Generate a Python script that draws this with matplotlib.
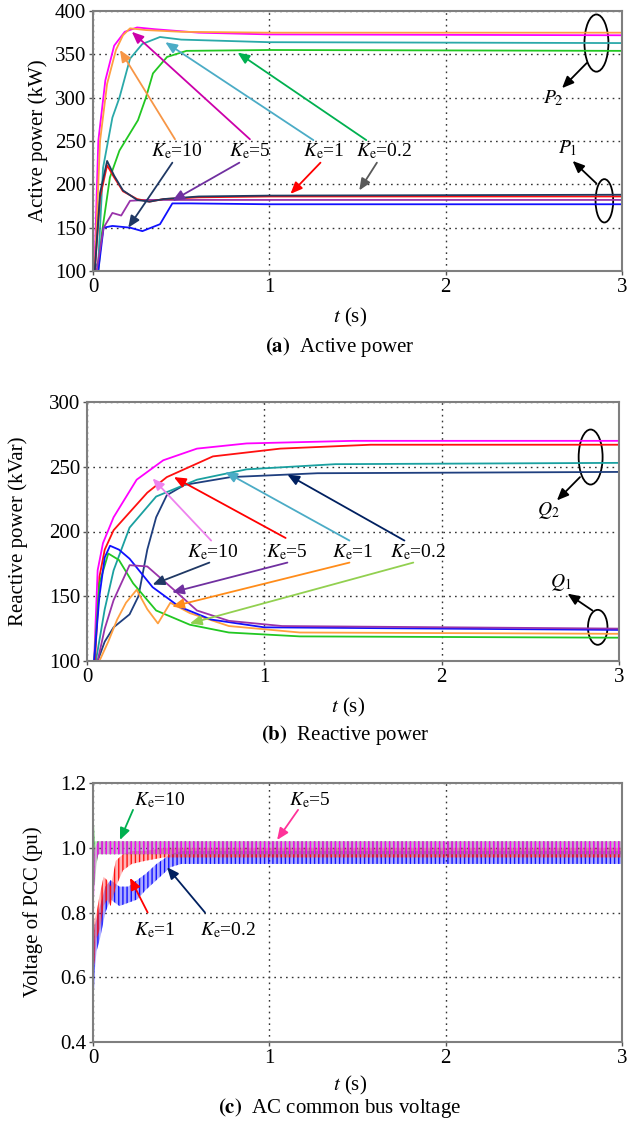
import matplotlib
matplotlib.use("Agg")
import matplotlib.pyplot as plt
from matplotlib.patches import Ellipse

plt.rcParams['font.family'] = ['Liberation Serif', 'DejaVu Serif']
plt.rcParams['mathtext.fontset'] = 'stix'
plt.rcParams['hatch.linewidth'] = 1.0

# ---------------- data: panel (a) active power ----------------
X_TICKS = [0, 1, 2, 3]
X_TICK_LABELS = ['0', '1', '2', '3']
A_Y_TICKS = [100, 150, 200, 250, 300, 350, 400]
B_Y_TICKS = [100, 150, 200, 250, 300]
C_Y_TICKS = [0.4, 0.6, 0.8, 1.0, 1.2]
C_Y_TICK_LABELS = ['0.4', '0.6', '0.8', '1.0', '1.2']

P2_KE10_T = [0, 0.01, 0.04, 0.08, 0.13, 0.17, 0.21, 0.3, 0.5, 1.0, 3.0]
P2_KE10 = [100, 100, 250, 316, 355, 372, 380, 378, 376, 375, 375]
P2_KE5_T = [0, 0.008, 0.03, 0.07, 0.12, 0.18, 0.25, 0.35, 0.6, 1.0, 3.0]
P2_KE5 = [100, 100, 250, 320, 360, 376, 381, 379, 375, 373, 372]
P2_KE1_T = [0, 0.03, 0.057, 0.11, 0.15, 0.21, 0.28, 0.38, 0.5, 1.0, 3.0]
P2_KE1 = [100, 110, 219, 277, 300, 345, 362, 370, 367, 364, 363]
P2_KE02_T = [0, 0.03, 0.05, 0.096, 0.15, 0.255, 0.30, 0.34, 0.42, 0.53, 1.0, 3.0]
P2_KE02 = [100, 100, 143, 208, 239, 274, 300, 328, 347, 354, 355, 354]

P1_KE02_T = [0, 0.01, 0.04, 0.08, 0.12, 0.17, 0.25, 0.32, 0.4, 0.6, 1.0, 3.0]
P1_KE02 = [100, 100, 190, 227, 210, 193, 182, 180, 183, 186, 187, 188]
P1_KE1_T = [0, 0.01, 0.04, 0.08, 0.12, 0.17, 0.25, 0.32, 0.4, 0.6, 1.0, 3.0]
P1_KE1 = [100, 100, 185, 222, 208, 192, 183, 180, 183, 185, 186, 186]
P1_KE5_T = [0, 0.02, 0.06, 0.11, 0.16, 0.21, 0.3, 0.5, 1.0, 3.0]
P1_KE5 = [100, 100, 150, 167, 164, 181, 182, 182, 182, 182]
P1_KE10_T = [0, 0.03, 0.06, 0.11, 0.21, 0.28, 0.38, 0.45, 0.55, 1.0, 3.0]
P1_KE10 = [100, 100, 150, 152, 150, 146, 154, 178, 178, 177, 177]

# ---------------- data: panel (b) reactive power ----------------
Q2_KE10_T = [0, 0.04, 0.06, 0.09, 0.15, 0.28, 0.43, 0.62, 0.9, 1.5, 3.0]
Q2_KE10 = [100, 100, 170, 191, 211, 240, 255, 264, 268, 270, 270]
Q2_KE5_T = [0, 0.045, 0.07, 0.10, 0.15, 0.34, 0.45, 0.71, 1.09, 1.6, 3.0]
Q2_KE5 = [100, 100, 165, 186, 201, 230, 242, 258, 264, 267, 267]
Q2_KE1_T = [0, 0.05, 0.10, 0.15, 0.24, 0.39, 0.62, 0.90, 1.4, 3.0]
Q2_KE1 = [100, 100, 140, 170, 203, 227, 240, 248, 252, 253]
Q2_KE02_T = [0, 0.06, 0.10, 0.15, 0.24, 0.29, 0.34, 0.39, 0.45, 0.55, 0.81, 1.3, 3.0]
Q2_KE02 = [100, 100, 115, 126, 136, 150, 186, 211, 228, 236, 242, 245, 246]

Q1_KE10_T = [0, 0.04, 0.07, 0.10, 0.13, 0.18, 0.24, 0.37, 0.52, 0.7, 1.0, 3.0]
Q1_KE10 = [100, 100, 150, 180, 189, 186, 179, 157, 142, 132, 126, 124]
Q1_KE5_T = [0, 0.06, 0.10, 0.15, 0.24, 0.34, 0.49, 0.62, 0.8, 1.1, 3.0]
Q1_KE5 = [100, 100, 125, 147, 174, 173, 155, 139, 131, 127, 125]
Q1_KE1_T = [0, 0.07, 0.12, 0.17, 0.22, 0.28, 0.34, 0.40, 0.47, 0.58, 0.8, 1.2, 3.0]
Q1_KE1 = [100, 100, 115, 132, 145, 155, 140, 129, 145, 137, 127, 122, 121]
Q1_KE02_T = [0, 0.04, 0.07, 0.12, 0.18, 0.26, 0.39, 0.58, 0.8, 1.2, 3.0]
Q1_KE02 = [100, 100, 160, 183, 178, 160, 139, 128, 122, 119, 118]

# ---------------- data: panel (c) PCC voltage (ripple envelopes) ----------------
V_KE02_T = [0.0, 0.005, 0.01, 0.02, 0.04, 0.07, 0.10, 0.15, 0.20, 0.25, 0.30, 0.36, 0.44, 0.50, 1.0, 3.0]
V_KE02_LO = [0.55, 0.55, 0.62, 0.68, 0.72, 0.80, 0.84, 0.82, 0.83, 0.84, 0.87, 0.90, 0.94, 0.95, 0.95, 0.95]
V_KE02_HI = [0.62, 0.70, 0.76, 0.78, 0.82, 0.88, 0.90, 0.88, 0.88, 0.90, 0.92, 0.95, 0.98, 0.99, 0.99, 0.99]
V_KE1_T = [0.0, 0.01, 0.02, 0.04, 0.06, 0.08, 0.10, 0.13, 0.17, 0.22, 0.30, 0.40, 3.0]
V_KE1_LO = [0.62, 0.65, 0.72, 0.75, 0.82, 0.84, 0.82, 0.88, 0.93, 0.95, 0.96, 0.97, 0.97]
V_KE1_HI = [0.70, 0.78, 0.80, 0.86, 0.91, 0.90, 0.88, 0.96, 0.98, 0.99, 0.99, 1.00, 1.00]
V_KE10_T = [0.0, 0.005, 0.01, 0.02, 0.03, 0.05, 3.0]
V_KE10_LO = [0.86, 0.90, 0.88, 0.95, 0.98, 0.98, 0.98]
V_KE10_HI = [1.08, 1.08, 1.02, 1.02, 1.02, 1.02, 1.02]
V_KE5_T = [0.0, 0.01, 0.02, 0.03, 0.05, 3.0]
V_KE5_LO = [0.77, 0.90, 0.96, 0.98, 0.98, 0.98]
V_KE5_HI = [0.96, 1.00, 1.01, 1.02, 1.02, 1.02]

KE_LABELS = ['10', '5', '1', '0.2']

# ---------------- figure ----------------
W, H = 634, 1123
fig = plt.figure(figsize=(W / 100, H / 100), dpi=100)


def px_axes(l, t, r, b):
    return fig.add_axes([l / W, 1 - b / H, (r - l) / W, (b - t) / H])


ax_a = px_axes(93, 11, 622, 271)
ax_b = px_axes(87, 402, 619, 661)
ax_c = px_axes(93, 783, 622, 1042)

FS = 14
TFS = 15
GRID_KW = dict(color='#333333', linestyle=(0, (1.2, 3.0)), linewidth=1.0)


def style(ax, yticks, ylim, ylabels=None):
    ax.set_xlim(0, 3)
    ax.set_ylim(*ylim)
    ax.set_xticks(X_TICKS)
    ax.set_xticklabels(X_TICK_LABELS)
    ax.set_yticks(yticks)
    if ylabels is not None:
        ax.set_yticklabels(ylabels)
    ax.tick_params(labelsize=TFS, direction='out', length=3, width=1,
                   color='#555555', pad=2)
    for s in ax.spines.values():
        s.set_color('#7f7f7f')
        s.set_linewidth(1.5)
    ax.grid(True, **GRID_KW)
    ax.set_axisbelow(True)


def ke(v):
    return r'$K_{\mathrm{e}}$=' + v


def arrow(ax, src, dst, color):
    ax.annotate('', xy=dst, xytext=src,
                arrowprops=dict(arrowstyle='-|>,head_length=0.7,head_width=0.3',
                                color=color, lw=1.3, shrinkA=0, shrinkB=0),
                annotation_clip=False)


# ---- panel (a)
style(ax_a, A_Y_TICKS, (100, 400))
LW = 1.3
ax_a.plot(P2_KE02_T, P2_KE02, color='#22c722', lw=LW)
ax_a.plot(P2_KE1_T, P2_KE1, color='#2aa9a9', lw=LW)
ax_a.plot(P2_KE5_T, P2_KE5, color='#ff00ff', lw=LW)
ax_a.plot(P2_KE10_T, P2_KE10, color='#ffa040', lw=LW)
ax_a.plot(P1_KE10_T, P1_KE10, color='#1010ff', lw=LW)
ax_a.plot(P1_KE5_T, P1_KE5, color='#9933aa', lw=LW)
ax_a.plot(P1_KE1_T, P1_KE1, color='#ff1010', lw=LW)
ax_a.plot(P1_KE02_T, P1_KE02, color='#203a60', lw=LW)

for x, lab in zip([0.476, 0.89, 1.31, 1.65], KE_LABELS):
    ax_a.text(x, 238, ke(lab), fontsize=FS, ha='center', va='center')
arrow(ax_a, (0.465, 252), (0.153, 355), '#f79646')
arrow(ax_a, (0.89, 252), (0.22, 376), '#cc00aa')
arrow(ax_a, (1.25, 251), (0.41, 364), '#4bacc6')
arrow(ax_a, (1.55, 251), (0.82, 352), '#00b050')
arrow(ax_a, (0.45, 225), (0.20, 150), '#1f3864')
arrow(ax_a, (0.83, 225), (0.45, 181), '#7030a0')
arrow(ax_a, (1.29, 225), (1.12, 189), '#ff0000')
arrow(ax_a, (1.61, 225), (1.51, 193), '#595959')
ax_a.add_patch(Ellipse((2.855, 363), 0.136, 66, fill=False, ec='black', lw=1.3, clip_on=False))
arrow(ax_a, (2.80, 340), (2.66, 311), 'black')
ax_a.text(2.61, 300, r'$P_2$', fontsize=FS, ha='center', va='center')
ax_a.add_patch(Ellipse((2.90, 181), 0.10, 50, fill=False, ec='black', lw=1.3, clip_on=False))
arrow(ax_a, (2.855, 201), (2.72, 227), 'black')
ax_a.text(2.69, 242, r'$P_1$', fontsize=FS, ha='center', va='center')

# ---- panel (b)
style(ax_b, B_Y_TICKS, (100, 300))
ax_b.plot(Q2_KE02_T, Q2_KE02, color='#1f3f7f', lw=LW)
ax_b.plot(Q2_KE1_T, Q2_KE1, color='#1aa0a0', lw=LW)
ax_b.plot(Q2_KE5_T, Q2_KE5, color='#ff1010', lw=LW)
ax_b.plot(Q2_KE10_T, Q2_KE10, color='#ff00ff', lw=LW)
ax_b.plot(Q1_KE02_T, Q1_KE02, color='#22c722', lw=LW)
ax_b.plot(Q1_KE1_T, Q1_KE1, color='#ffa040', lw=LW)
ax_b.plot(Q1_KE10_T, Q1_KE10, color='#1010ff', lw=LW)
ax_b.plot(Q1_KE5_T, Q1_KE5, color='#9933aa', lw=LW)

for x, lab in zip([0.71, 1.13, 1.50, 1.87], KE_LABELS):
    ax_b.text(x, 184, ke(lab), fontsize=FS, ha='center', va='center')
arrow(ax_b, (0.70, 193), (0.37, 241), '#ee82ee')
arrow(ax_b, (1.12, 195), (0.49, 242), '#ff0000')
arrow(ax_b, (1.48, 193), (0.78, 246), '#4bacc6')
arrow(ax_b, (1.79, 193), (1.13, 244), '#002060')
arrow(ax_b, (0.69, 176), (0.37, 159), '#1f3864')
arrow(ax_b, (1.13, 176), (0.48, 153), '#7030a0')
arrow(ax_b, (1.48, 176), (0.48, 142), '#ff8c1a')
arrow(ax_b, (1.84, 176), (0.58, 129), '#92d050')
ax_b.add_patch(Ellipse((2.84, 257.5), 0.135, 42.5, fill=False, ec='black', lw=1.3, clip_on=False))
arrow(ax_b, (2.78, 242), (2.65, 224), 'black')
ax_b.text(2.60, 216, r'$Q_2$', fontsize=FS, ha='center', va='center')
ax_b.add_patch(Ellipse((2.88, 126), 0.11, 27, fill=False, ec='black', lw=1.3, clip_on=False))
arrow(ax_b, (2.85, 139), (2.71, 152), 'black')
ax_b.text(2.67, 161, r'$Q_1$', fontsize=FS, ha='center', va='center')

# ---- panel (c): ripple bands drawn as dense vertical hatching
style(ax_c, C_Y_TICKS, (0.4, 1.2), C_Y_TICK_LABELS)
for t, lo, hi, col, a in [(V_KE02_T, V_KE02_LO, V_KE02_HI, '#1010ff', 0.35),
                          (V_KE1_T, V_KE1_LO, V_KE1_HI, '#ff1010', 0.30),
                          (V_KE10_T, V_KE10_LO, V_KE10_HI, '#22b022', 0.30),
                          (V_KE5_T, V_KE5_LO, V_KE5_HI, '#ff00ff', 0.25)]:
    ax_c.fill_between(t, lo, hi, facecolor=col, alpha=a, lw=0)
    ax_c.fill_between(t, lo, hi, facecolor='none', edgecolor=col, hatch='||||', lw=0)

ax_c.text(0.38, 1.147, ke('10'), fontsize=FS, ha='center', va='center')
ax_c.text(1.23, 1.147, ke('5'), fontsize=FS, ha='center', va='center')
ax_c.text(0.35, 0.746, ke('1'), fontsize=FS, ha='center', va='center')
ax_c.text(0.765, 0.746, ke('0.2'), fontsize=FS, ha='center', va='center')
arrow(ax_c, (0.227, 1.117), (0.153, 1.024), '#00b050')
arrow(ax_c, (1.163, 1.117), (1.044, 1.024), '#ff3399')
arrow(ax_c, (0.31, 0.80), (0.21, 0.907), '#ff0000')
arrow(ax_c, (0.635, 0.80), (0.42, 0.94), '#002060')

# ---- labels & captions
def ftext(xp, yp, s, **kw):
    fig.text(xp / W, 1 - yp / H, s, fontsize=FS + 1, ha='center', va='center', **kw)


ftext(38, 141, 'Active power (kW)', rotation=90)
ftext(18, 531, 'Reactive power (kVar)', rotation=90)
ftext(33, 912, 'Voltage of PCC (pu)', rotation=90)

ftext(350, 317, r'$t$ (s)')
ftext(340, 347, r'$\mathbf{(a)}$  Active power')
ftext(348, 707, r'$t$ (s)')
ftext(345, 735, r'$\mathbf{(b)}$  Reactive power')
ftext(350, 1085, r'$t$ (s)')
ftext(340, 1108, r'$\mathbf{(c)}$  AC common bus voltage')

fig.savefig('out.png', dpi=100)
